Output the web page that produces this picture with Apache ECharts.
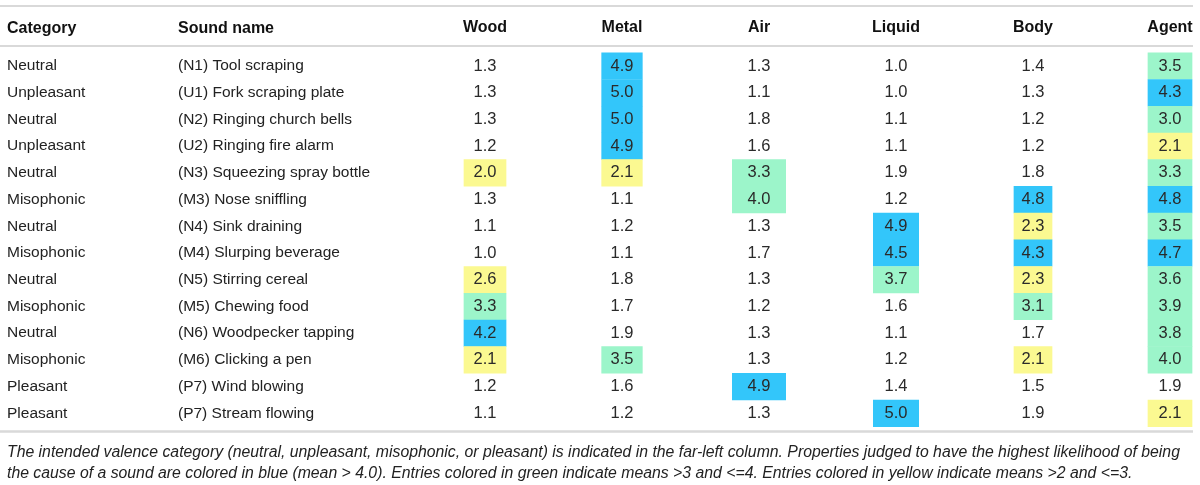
<!DOCTYPE html>
<html>
<head>
<meta charset="utf-8">
<script src="https://cdn.jsdelivr.net/npm/echarts@6/dist/echarts.min.js"></script>
<style>
html,body{margin:0;padding:0;background:#fff;}
#main{width:1200px;height:485px;}
</style>
</head>
<body>
<div id="main"></div>
<script>
const columns = ['Wood', 'Metal', 'Air', 'Liquid', 'Body', 'Agent'];
const categories = ['Neutral','Unpleasant','Neutral','Unpleasant','Neutral','Misophonic','Neutral','Misophonic','Neutral','Misophonic','Neutral','Misophonic','Pleasant','Pleasant'];
const soundNames = ['(N1) Tool scraping','(U1) Fork scraping plate','(N2) Ringing church bells','(U2) Ringing fire alarm','(N3) Squeezing spray bottle','(M3) Nose sniffling','(N4) Sink draining','(M4) Slurping beverage','(N5) Stirring cereal','(M5) Chewing food','(N6) Woodpecker tapping','(M6) Clicking a pen','(P7) Wind blowing','(P7) Stream flowing'];
const wood   = [1.3,1.3,1.3,1.2,2.0,1.3,1.1,1.0,2.6,3.3,4.2,2.1,1.2,1.1];
const metal  = [4.9,5.0,5.0,4.9,2.1,1.1,1.2,1.1,1.8,1.7,1.9,3.5,1.6,1.2];
const air    = [1.3,1.1,1.8,1.6,3.3,4.0,1.3,1.7,1.3,1.2,1.3,1.3,4.9,1.3];
const liquid = [1.0,1.0,1.1,1.1,1.9,1.2,4.9,4.5,3.7,1.6,1.1,1.2,1.4,5.0];
const body   = [1.4,1.3,1.2,1.2,1.8,4.8,2.3,4.3,2.3,3.1,1.7,2.1,1.5,1.9];
const agent  = [3.5,4.3,3.0,2.1,3.3,4.8,3.5,4.7,3.6,3.9,3.8,4.0,1.9,2.1];
// highlight class per cell as printed: b = blue, g = green, y = yellow, '' = none
const woodClass   = ['','','','','y','','','','y','g','b','y','',''];
const metalClass  = ['b','b','b','b','y','','','','','','','g','',''];
const airClass    = ['','','','','g','g','','','','','','','b',''];
const liquidClass = ['','','','','','','b','b','g','','','','','b'];
const bodyClass   = ['','','','','','b','y','b','y','g','','y','',''];
const agentClass  = ['g','b','g','y','g','b','g','b','g','g','g','g','','y'];
const caption = 'The intended valence category (neutral, unpleasant, misophonic, or pleasant) is indicated in the far-left column. Properties judged to have the highest likelihood of being\nthe cause of a sound are colored in blue (mean > 4.0). Entries colored in green indicate means >3 and <=4. Entries colored in yellow indicate means >2 and <=3.';

const valueCols = [wood, metal, air, liquid, body, agent];
const classCols = [woodClass, metalClass, airClass, liquidClass, bodyClass, agentClass];
const colorOf = {b:'#33c6fa', g:'#9cf5ca', y:'#fbf991', '':'rgba(0,0,0,0)'};
const cellWidths = [42.7, 41.3, 54, 46, 38.7, 44.7];

const data = [];
valueCols.forEach((vals, c) => {
  vals.forEach((v, r) => {
    data.push({value: [c, r, v], itemStyle: {color: colorOf[classCols[c][r]], opacity: 1}});
  });
});

const rows = categories.map((c, i) => i);
const chart = echarts.init(document.getElementById('main'));
const FONT = '"Liberation Sans", Arial, Helvetica, sans-serif';
chart.setOption({
  animation: false,
  backgroundColor: '#fff',
  textStyle: {fontFamily: FONT},
  grid: {left: 485, right: 30, top: 52.7, bottom: 58.3},
  title: [
    {text: 'Category', left: 7, top: 20.5, padding: 0, textStyle: {fontFamily: FONT, fontSize: 16, fontWeight: 'bold', color: '#111'}},
    {text: 'Sound name', left: 178, top: 20.5, padding: 0, textStyle: {fontFamily: FONT, fontSize: 16, fontWeight: 'bold', color: '#111'}},
    {text: caption, left: 7, top: 442.5, padding: 0, textStyle: {fontFamily: FONT, fontSize: 15.8, fontStyle: 'italic', fontWeight: 'normal', color: '#222', lineHeight: 21}}
  ],
  graphic: [
    {type: 'line', shape: {x1: 0, y1: 6, x2: 1193, y2: 6}, style: {stroke: '#d9d9d9', lineWidth: 2}, silent: true},
    {type: 'line', shape: {x1: 0, y1: 46, x2: 1193, y2: 46}, style: {stroke: '#d9d9d9', lineWidth: 2}, silent: true},
    {type: 'line', shape: {x1: 0, y1: 431.5, x2: 1193, y2: 431.5}, style: {stroke: '#d9d9d9', lineWidth: 2.5}, silent: true}
  ],
  xAxis: {
    type: 'category', position: 'top', boundaryGap: false, data: columns,
    axisLine: {show: false}, axisTick: {show: false}, splitLine: {show: false},
    axisLabel: {fontFamily: FONT, fontSize: 16, fontWeight: 'bold', color: '#111', margin: 17.5, interval: 0}
  },
  yAxis: {
    type: 'category', inverse: true, data: rows,
    axisLine: {show: false}, axisTick: {show: false}, splitLine: {show: false},
    axisLabel: {
      align: 'left', margin: 478, interval: 0,
      formatter: (v, i) => '{c|' + categories[i] + '}{s|' + soundNames[i] + '}',
      rich: {
        c: {width: 171, fontFamily: FONT, fontSize: 15.5, color: '#222'},
        s: {fontFamily: FONT, fontSize: 15.5, color: '#222'}
      }
    }
  },
  series: [{
    type: 'scatter', silent: true, data: data,
    symbol: 'rect',
    symbolSize: (val) => [cellWidths[val[0]], 27.1],
    itemStyle: {opacity: 1},
    emphasis: {disabled: true},
    label: {show: true, position: 'inside', formatter: (p) => p.value[2].toFixed(1), fontFamily: FONT, fontSize: 16.5, color: '#2a2a2a'}
  }]
});
</script>
</body>
</html>
